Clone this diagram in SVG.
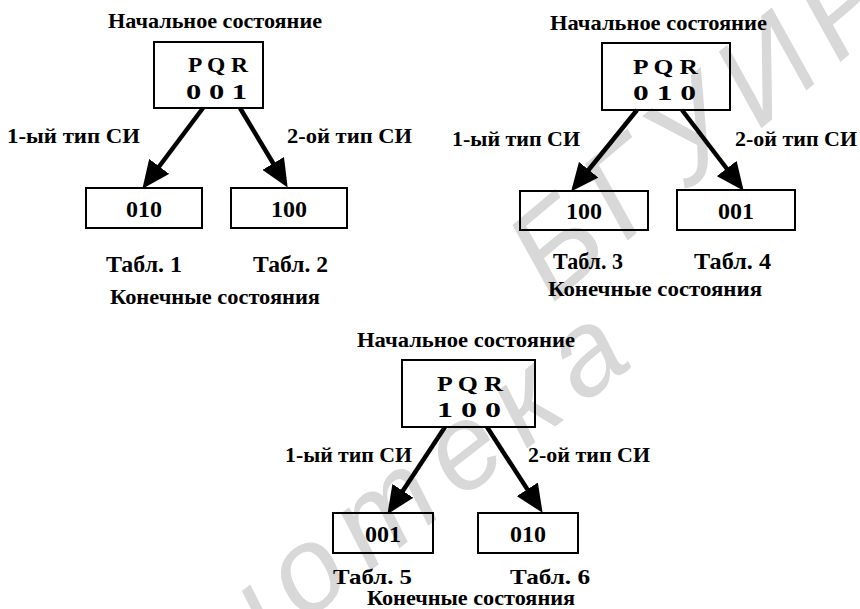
<svg xmlns="http://www.w3.org/2000/svg" width="860" height="609" viewBox="0 0 860 609">
<defs>
<style>
.t{font-family:"Liberation Serif","Times New Roman",serif;font-weight:bold;fill:#000}
.ti{font-size:21px}
.pq{font-size:22px}
.lb{font-size:20px}
.val{font-size:24px;text-anchor:middle}
.tb{font-size:23px}
.box{fill:none;stroke:#000;stroke-width:2}
.arr{stroke:#000;stroke-width:4.5;fill:none;marker-end:url(#ah)}
.wm{font-family:"Liberation Sans",Arial,sans-serif;font-style:italic;fill:#d8d8d8}
</style>
<marker id="ah" markerUnits="userSpaceOnUse" viewBox="0 0 28 25" refX="17" refY="12.5" markerWidth="28" markerHeight="25" orient="auto">
<path d="M0,0 L28,12.5 L0,25 z" fill="#000"/>
</marker>
</defs>
<rect width="860" height="609" fill="#fff"/>
<g id="watermark">
<text class="wm" font-size="125" transform="translate(552,304) rotate(-40)" textLength="456" lengthAdjust="spacing">БГУИР</text>
<text class="wm" font-size="120" transform="translate(648,354) rotate(-38)" text-anchor="end" letter-spacing="16">Библиотека</text>
</g>

<g id="connectors">
<line class="arr" x1="203" y1="108" x2="149" y2="180"/>
<line class="arr" x1="240" y1="108" x2="282" y2="178"/>
<line class="arr" x1="637" y1="110" x2="578" y2="183"/>
<line class="arr" x1="682" y1="110" x2="737" y2="182"/>
<line class="arr" x1="445" y1="427" x2="393.5" y2="505"/>
<line class="arr" x1="487" y1="427" x2="536.6" y2="503.6"/>
</g>

<!-- Diagram 1 -->
<g id="d1-start">
<text class="t ti" x="108" y="28" textLength="214" lengthAdjust="spacingAndGlyphs">Начальное состояние</text>
<rect class="box" x="154" y="42" width="109" height="66"/>
<text class="t pq" x="188" y="72" textLength="60" lengthAdjust="spacingAndGlyphs">P Q R</text>
<text class="t pq" x="186" y="99" textLength="61" lengthAdjust="spacingAndGlyphs">0 0 1</text>
</g>
<g id="d1-labels">
<text class="t lb" x="7" y="143" textLength="133" lengthAdjust="spacingAndGlyphs">1-ый тип СИ</text>
<text class="t lb" x="287" y="143" textLength="125" lengthAdjust="spacingAndGlyphs">2-ой тип СИ</text>
</g>
<g id="d1-end1">
<rect class="box" x="86" y="188" width="116" height="40"/>
<text class="t val" x="144" y="217">010</text>
<text class="t tb" x="106" y="272" textLength="76" lengthAdjust="spacingAndGlyphs">Табл. 1</text>
</g>
<g id="d1-end2">
<rect class="box" x="231" y="188" width="116" height="40"/>
<text class="t val" x="289" y="217">100</text>
<text class="t tb" x="253" y="272" textLength="75" lengthAdjust="spacingAndGlyphs">Табл. 2</text>
</g>
<text class="t ti" x="110" y="304" textLength="210" lengthAdjust="spacingAndGlyphs">Конечные состояния</text>

<!-- Diagram 2 -->
<g id="d2-start">
<text class="t ti" x="550" y="30" textLength="217" lengthAdjust="spacingAndGlyphs">Начальное состояние</text>
<rect class="box" x="602" y="43" width="128" height="67"/>
<text class="t pq" x="633" y="74" textLength="65" lengthAdjust="spacingAndGlyphs">P Q R</text>
<text class="t pq" x="633" y="100" textLength="63" lengthAdjust="spacingAndGlyphs">0 1 0</text>
</g>
<g id="d2-labels">
<text class="t lb" x="452" y="146" textLength="128" lengthAdjust="spacingAndGlyphs">1-ый тип СИ</text>
<text class="t lb" x="735" y="146" textLength="122" lengthAdjust="spacingAndGlyphs">2-ой тип СИ</text>
</g>
<g id="d2-end1">
<rect class="box" x="520" y="191" width="128" height="39"/>
<text class="t val" x="584" y="219">100</text>
<text class="t tb" x="553" y="269" textLength="70" lengthAdjust="spacingAndGlyphs">Табл. 3</text>
</g>
<g id="d2-end2">
<rect class="box" x="677" y="190" width="118" height="40"/>
<text class="t val" x="736" y="219">001</text>
<text class="t tb" x="694" y="269" textLength="77" lengthAdjust="spacingAndGlyphs">Табл. 4</text>
</g>
<text class="t ti" x="548" y="296" textLength="214" lengthAdjust="spacingAndGlyphs">Конечные состояния</text>

<!-- Diagram 3 -->
<g id="d3-start">
<text class="t ti" x="357" y="347" textLength="218" lengthAdjust="spacingAndGlyphs">Начальное состояние</text>
<rect class="box" x="402" y="360" width="133" height="67"/>
<text class="t pq" x="437" y="391" textLength="66" lengthAdjust="spacingAndGlyphs">P Q R</text>
<text class="t pq" x="437" y="417" textLength="64" lengthAdjust="spacingAndGlyphs">1 0 0</text>
</g>
<g id="d3-labels">
<text class="t lb" x="285" y="462" textLength="127" lengthAdjust="spacingAndGlyphs">1-ый тип СИ</text>
<text class="t lb" x="528" y="462" textLength="122" lengthAdjust="spacingAndGlyphs">2-ой тип СИ</text>
</g>
<g id="d3-end1">
<rect class="box" x="333" y="513" width="100" height="40"/>
<text class="t val" x="383" y="542">001</text>
<text class="t tb" x="333" y="584" textLength="79" lengthAdjust="spacingAndGlyphs" style="font-size:22px">Табл. 5</text>
</g>
<g id="d3-end2">
<rect class="box" x="478" y="513" width="100" height="40"/>
<text class="t val" x="528" y="542">010</text>
<text class="t tb" x="510" y="584" textLength="80" lengthAdjust="spacingAndGlyphs" style="font-size:22px">Табл. 6</text>
</g>
<text class="t ti" x="367" y="605" textLength="208" lengthAdjust="spacingAndGlyphs">Конечные состояния</text>
</svg>
